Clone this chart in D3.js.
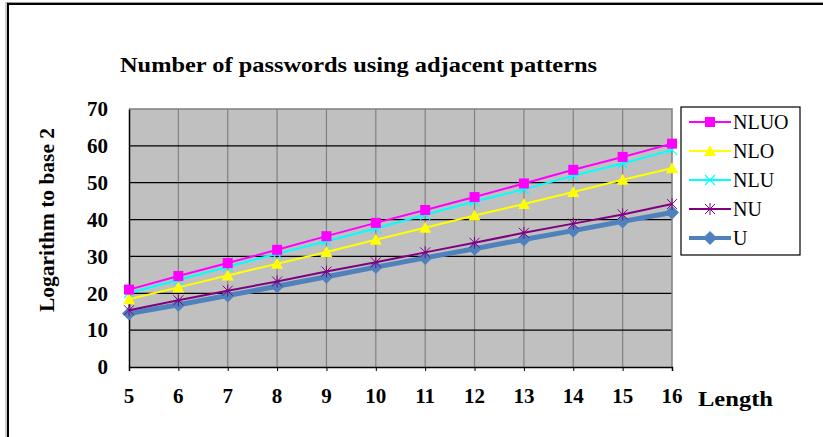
<!DOCTYPE html>
<html><head><meta charset="utf-8">
<script src="https://cdn.jsdelivr.net/npm/d3@7"></script>
<style>body{margin:0;background:#fff}svg{display:block}</style>
</head><body>
<script>
const lengths = [5,6,7,8,9,10,11,12,13,14,15,16];
const NLUO = [21.0,24.7,28.2,31.8,35.5,39.1,42.6,46.1,49.8,53.5,57.0,60.6];
const NLO  = [18.4,21.6,24.8,28.0,31.2,34.5,37.8,41.1,44.2,47.5,50.8,53.9];
const NLU  = [20.1,23.6,27.2,30.7,34.1,37.6,41.3,44.9,48.2,51.9,55.2,58.9];
const NU   = [15.4,18.1,20.7,23.2,25.9,28.4,31.1,33.7,36.4,38.9,41.4,44.2];
const U    = [14.5,16.9,19.4,21.9,24.5,27.1,29.6,32.1,34.6,37.0,39.5,41.9];
const yTicks = [0,10,20,30,40,50,60,70];
const seriesNames = ["NLUO","NLO","NLU","NU","U"];
const seriesValues = [NLUO,NLO,NLU,NU,U];
const title = "Number of passwords using adjacent patterns";
const yLabel = "Logarithm to base 2";
const xLabel = "Length";

const styles = {
  NLUO:{color:"#ff00ff", width:2, marker:"square"},
  NLO:{color:"#ffff00", width:2, marker:"triangle"},
  NLU:{color:"#00ffff", width:2, marker:"x"},
  NU:{color:"#800080", width:2, marker:"star"},
  U:{color:"#4f81bd", width:5, marker:"diamond"}
};

const W=823,H=437;
const svg=d3.select("body").append("svg").attr("width",W).attr("height",H);
const font="'Liberation Serif','DejaVu Serif','Times New Roman',serif";

// outer frame
svg.append("path").attr("d",`M8,${H+5} L8,4 L${W+5},4`).attr("fill","none").attr("stroke","#000").attr("stroke-width",2);
svg.append("path").attr("d",`M6,${H+5} L6,2.5 L${W+5},2.5`).attr("fill","none").attr("stroke","#999").attr("stroke-width",1);

const L=129,R=672,T=109,B=367;
const x=d3.scalePoint().domain(lengths).range([L,R]).padding(0);
const y=d3.scaleLinear().domain([0,70]).range([B,T]);

svg.append("rect").attr("x",L).attr("y",T).attr("width",R-L).attr("height",B-T).attr("fill","#c0c0c0");

svg.append("g").selectAll("line").data(lengths.slice(1,-1)).join("line")
  .attr("x1",d=>x(d)).attr("x2",d=>x(d)).attr("y1",T).attr("y2",B)
  .attr("stroke","#808080").attr("stroke-width",1.2);
svg.append("g").selectAll("line").data(yTicks.slice(1,-1)).join("line")
  .attr("x1",L).attr("x2",R).attr("y1",d=>y(d)).attr("y2",d=>y(d))
  .attr("stroke","#000").attr("stroke-width",1.2);
svg.append("path").attr("d",`M${L},${T} L${R},${T} L${R},${B}`).attr("fill","none").attr("stroke","#808080").attr("stroke-width",1.5);

const xAxis=d3.axisBottom(x).tickSize(4).tickFormat("");
svg.append("g").attr("transform",`translate(0,${B})`).call(xAxis)
  .call(g=>{g.select(".domain").attr("stroke","#000").attr("stroke-width",1.5);g.selectAll(".tick line").attr("stroke","#000");});
const yAxis=d3.axisLeft(y).tickValues(yTicks).tickSize(0).tickFormat("");
svg.append("g").attr("transform",`translate(${L},0)`).call(yAxis)
  .call(g=>{g.select(".domain").attr("stroke","#000").attr("stroke-width",1.5);});

svg.append("g").selectAll("text").data(yTicks).join("text")
  .attr("x",108).attr("y",d=>y(d)).attr("dy","0.35em").attr("text-anchor","end")
  .attr("font-family",font).attr("font-weight","bold").attr("font-size",21).text(d=>d);
svg.append("g").selectAll("text").data(lengths).join("text")
  .attr("x",d=>x(d)).attr("y",403).attr("text-anchor","middle")
  .attr("font-family",font).attr("font-weight","bold").attr("font-size",21).text(d=>d);

svg.append("text").attr("x",698).attr("y",406).attr("font-family",font).attr("font-weight","bold").attr("font-size",22)
  .attr("textLength",75).attr("lengthAdjust","spacingAndGlyphs").text(xLabel);
svg.append("text").attr("transform","translate(54,220) rotate(-90)").attr("text-anchor","middle")
  .attr("font-family",font).attr("font-weight","bold").attr("font-size",21)
  .attr("textLength",184).attr("lengthAdjust","spacingAndGlyphs").text(yLabel);
svg.append("text").attr("x",120).attr("y",72).attr("font-family",font).attr("font-weight","bold").attr("font-size",20)
  .attr("textLength",477).attr("lengthAdjust","spacingAndGlyphs").text(title);

function marker(g,type,color,cx,cy){
  if(type==="square") g.append("rect").attr("x",cx-5).attr("y",cy-5).attr("width",10).attr("height",10).attr("fill",color);
  else if(type==="triangle") g.append("path").attr("d",`M${cx},${cy-6} L${cx+6},${cy+5} L${cx-6},${cy+5}Z`).attr("fill",color);
  else if(type==="diamond") g.append("path").attr("d",`M${cx},${cy-7} L${cx+7},${cy} L${cx},${cy+7} L${cx-7},${cy}Z`).attr("fill",color);
  else if(type==="x") g.append("path").attr("d",`M${cx-5},${cy-5} L${cx+5},${cy+5} M${cx-5},${cy+5} L${cx+5},${cy-5}`).attr("stroke",color).attr("stroke-width",1.2);
  else if(type==="star") g.append("path").attr("d",`M${cx-5},${cy-5} L${cx+5},${cy+5} M${cx-5},${cy+5} L${cx+5},${cy-5} M${cx},${cy-6} L${cx},${cy+6}`).attr("stroke",color).attr("stroke-width",1);
}

const line=d3.line().x((d,i)=>x(lengths[i])).y(d=>y(d));
for(let k=seriesNames.length-1;k>=0;k--){
  const name=seriesNames[k], st=styles[name], vals=seriesValues[k];
  const g=svg.append("g");
  g.append("path").datum(vals).attr("d",line).attr("fill","none").attr("stroke",st.color).attr("stroke-width",st.width);
  vals.forEach((v,i)=>marker(g,st.marker,st.color,x(lengths[i]),y(v)));
}

const lg=svg.append("g");
lg.append("rect").attr("x",681).attr("y",107).attr("width",119).attr("height",148).attr("fill","#fff").attr("stroke","#000").attr("stroke-width",1.2);
const ly=[122,151,180,209,238];
seriesNames.forEach((name,i)=>{
  const st=styles[name];
  lg.append("line").attr("x1",689).attr("x2",731).attr("y1",ly[i]).attr("y2",ly[i]).attr("stroke",st.color).attr("stroke-width",st.width===5?4:2);
  marker(lg,st.marker,st.color,710,ly[i]);
  lg.append("text").attr("x",733).attr("y",ly[i]).attr("dy","0.35em").attr("font-family",font).attr("font-size",20).text(name);
});
</script>
</body></html>
